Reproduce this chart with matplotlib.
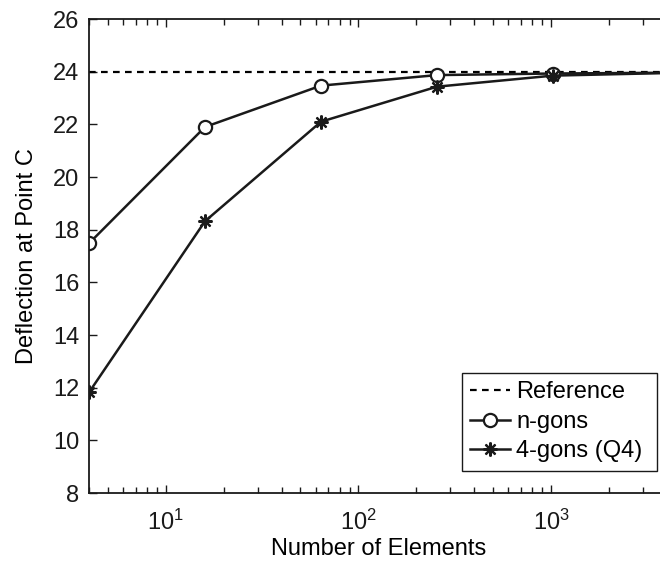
import matplotlib
matplotlib.use("Agg")
import matplotlib.pyplot as plt
from matplotlib.ticker import LogLocator

plt.rcParams["font.family"] = ["Liberation Sans", "DejaVu Sans"]
plt.rcParams["font.size"] = 17

# mesh refinement study: number of elements vs deflection at point C
n_elements = [4, 16, 64, 256, 1024, 4096]
ngons = [17.48, 21.9, 23.47, 23.87, 23.93, 23.96]
quad4 = [11.82, 18.32, 22.1, 23.43, 23.85, 23.95]
reference = 24.0

fig = plt.figure(figsize=(6.6, 5.62), dpi=100)
ax = fig.add_axes([89 / 660, 69 / 562, 580 / 660, 474 / 562])

ax.axhline(reference, color="black", ls=(0, (3.0, 2.4)), lw=1.6, label="Reference")
ax.plot(n_elements, ngons, color="#1a1a1a", lw=1.8, marker="o", ms=9.5,
        mfc="white", mec="#1a1a1a", mew=1.6, label="n-gons")
ax.plot(n_elements, quad4, color="#1a1a1a", lw=1.8, marker=(8, 2, 0), ms=10,
        mec="#1a1a1a", mew=1.6, label="4-gons (Q4)")

ax.set_xscale("log")
ax.set_xlim(4, 4096)
ax.set_ylim(8, 26)
ax.set_yticks(range(8, 27, 2))
ax.xaxis.set_major_locator(LogLocator(base=10))
ax.xaxis.set_minor_locator(LogLocator(base=10, subs=range(2, 10)))

ax.tick_params(which="both", direction="in", top=True, right=True,
               width=1.0, labelsize=17, colors="#1a1a1a")
ax.tick_params(which="major", length=6, pad=7)
ax.tick_params(axis="x", which="major", pad=12)
ax.tick_params(which="minor", length=4)
for s in ax.spines.values():
    s.set_linewidth(1.3)
    s.set_color("#1a1a1a")

ax.set_xlabel("Number of Elements", fontsize=17, labelpad=2)
ax.set_ylabel("Deflection at Point C", fontsize=17, labelpad=11)

# legend box spans a fixed width in figure pixels
leg = ax.legend(loc="upper left",
                bbox_to_anchor=(462 / 660, 1 - 471 / 562, 195 / 660, 98 / 562),
                bbox_transform=fig.transFigure, mode="expand",
                fontsize=17, handlelength=1.7,
                handletextpad=0.25, borderaxespad=0, fancybox=False,
                framealpha=1, edgecolor="#1a1a1a", labelspacing=0.32,
                borderpad=0.35)
leg.get_frame().set_linewidth(1.0)

fig.savefig("out.png", dpi=100)
